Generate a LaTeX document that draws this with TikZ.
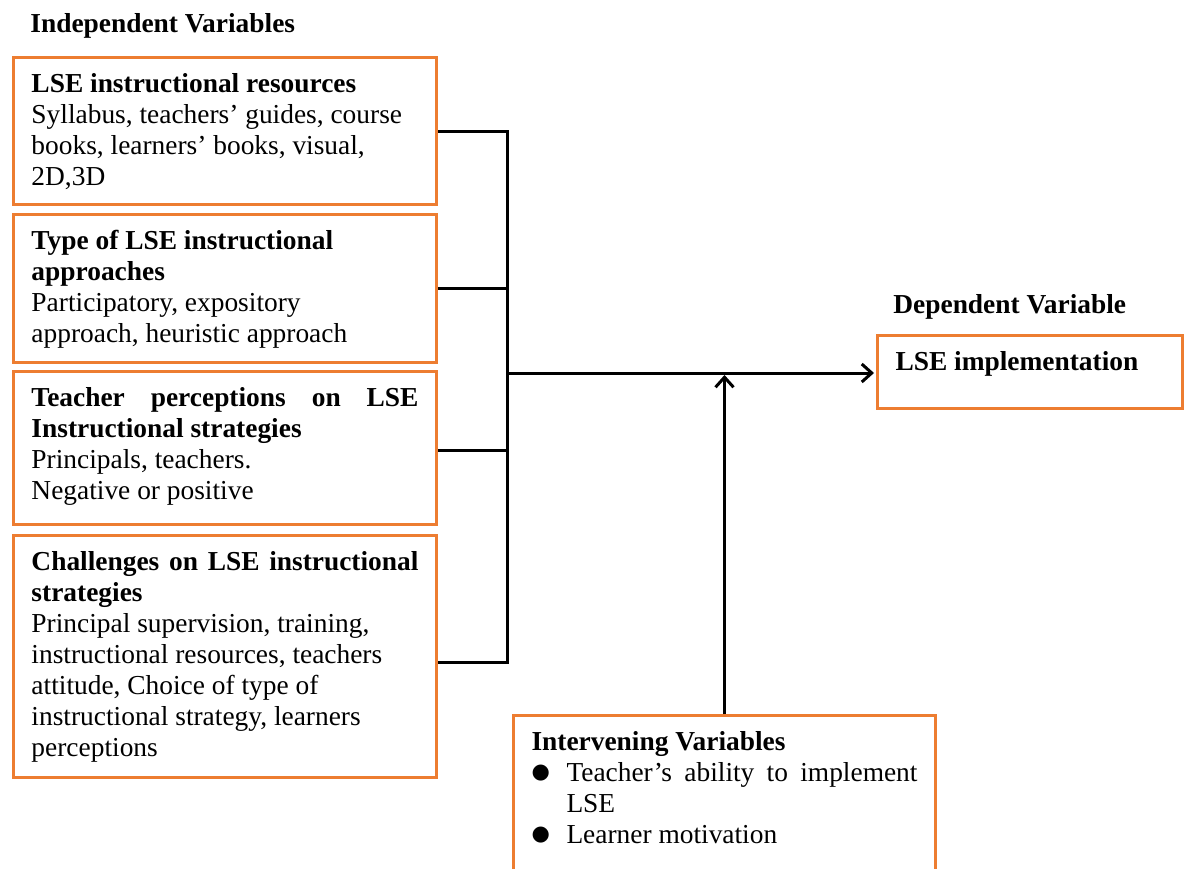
\documentclass[tikz,border=0pt]{standalone}
\usepackage{fontspec}
\setmainfont{Liberation Serif}
\newfontfamily\symfont{DejaVu Sans}
\usetikzlibrary{arrows.meta}
\definecolor{boxorange}{RGB}{237,125,49}
% top aligned text block of fixed height
\newcommand{\boxtext}[3]{\begin{minipage}[t][#1][t]{#2}\strut#3\end{minipage}}
\newcommand{\bulletsym}{\makebox[17.5pt][l]{\raisebox{1.2pt}{\symfont\fontsize{10.5}{10}\selectfont ●}}}

\begin{document}
\begin{tikzpicture}[x=0.5pt,y=-0.5pt,
    varbox/.style={draw=boxorange,line width=1.5pt,anchor=north west,
      inner xsep=9pt,inner ysep=6.4pt,font=\fontsize{13.7}{15.5}\selectfont},
    head/.style={anchor=base west,inner sep=0pt,font=\fontsize{13.7}{15.5}\selectfont\bfseries},
    link/.style={line width=1.5pt},
    arr/.style={link,-{Straight Barb[length=5pt,width=9pt]},shorten >=1pt}]
  \useasboundingbox (0,0) rectangle (1184,868);
  \fill[white] (0,0) rectangle (1184,868);

  % headings
  \node[head] (indep) at (30,32) {Independent Variables};
  \node[head] (depend) at (893,313) {Dependent Variable};

  % independent variables
  \node[varbox] (res) at (12,56)
    {\boxtext{60.7pt}{193.5pt}{\textbf{LSE instructional resources}\\
      Syllabus, teachers’ guides, course\\
      books, learners’ books, visual,\\
      2D,3D}};
  \node[varbox] (appr) at (12,213)
    {\boxtext{61.2pt}{193.5pt}{\textbf{Type of LSE instructional\\
      approaches}\\
      Participatory, expository\\
      approach, heuristic approach}};
  \node[varbox] (perc) at (12,370)
    {\boxtext{63.7pt}{193.5pt}{\textbf{Teacher\hfill perceptions\hfill on\hfill LSE\\
      Instructional strategies}\\
      Principals, teachers.\\
      Negative or positive}};
  \node[varbox] (chal) at (12,534)
    {\boxtext{108.2pt}{193.5pt}{\textbf{Challenges\hfill on\hfill LSE\hfill instructional\\
      strategies}\\
      Principal supervision, training,\\
      instructional resources, teachers\\
      attitude, Choice of type of\\
      instructional strategy, learners\\
      perceptions}};

  % dependent and intervening variables
  \node[varbox] (impl) at (876,334)
    {\boxtext{23.7pt}{134.5pt}{\textbf{LSE implementation}}};
  \node[varbox] (interv) at (512,714)
    {\boxtext{70pt}{193pt}{\textbf{Intervening Variables}\\
      \bulletsym Teacher’s\hfill ability\hfill to\hfill implement\\
      \hspace*{17.5pt}LSE\\
      \bulletsym Learner motivation}};

  % connectors
  \coordinate (join) at (507,373);
  \draw[link] (res.east) -| (join);
  \draw[link] (appr.east) -| (join);
  \draw[link] ([yshift=-1pt]perc.east) -| (join);
  \draw[link] ([yshift=-3pt]chal.east) -| (join);
  \draw[arr] (join) -- (join -| impl.west);
  \draw[arr] (interv.north) -- (interv.north |- join);
\end{tikzpicture}
\end{document}
